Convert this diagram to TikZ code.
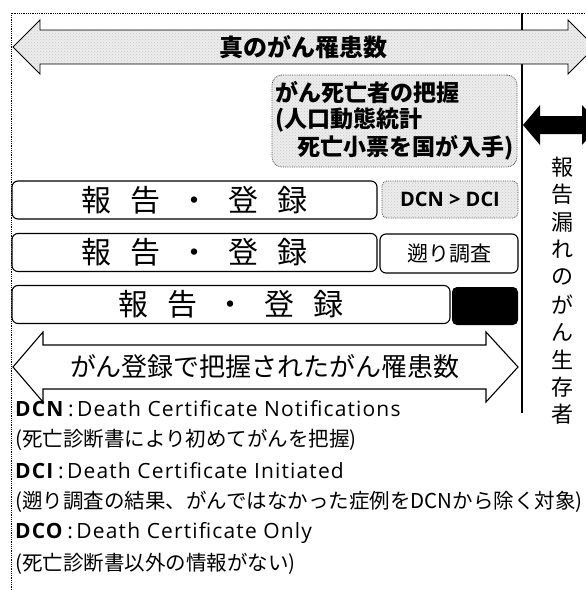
\documentclass[tikz,border=0pt]{standalone}
\usepackage{fontspec}
\setmainfont{Noto Sans CJK JP}
\newfontfamily\latinfont{Open Sans}
\newfontfamily\latinwide[LetterSpace=5.5]{Open Sans}
\usetikzlibrary{patterns}
\newcommand\fsz[1]{\fontsize{#1}{#1}\selectfont}

\tikzset{
  stipple/.style={preaction={fill=gray!14}, pattern=crosshatch dots, pattern color=gray!45},
  regbox/.style={draw, line width=1.1pt, rounded corners=6pt, fill=white, inner sep=0pt},
  dotbox/.style={stipple, draw=gray!60!black, densely dotted, line width=0.8pt, rounded corners=10pt, inner sep=0pt},
  legend/.style={anchor=west, inner sep=0pt},
}

\begin{document}
\begin{tikzpicture}[x=1pt, y=-1pt]
  \useasboundingbox (0,0) rectangle (586,590);
  \clip (0,0) rectangle (586,590);

  % frame and divider
  \draw[densely dotted, line width=0.8pt] (11,590) -- (11,13) -- (586,13);
  \draw[line width=2.8pt] (522,13) -- (522,413);

  % true incidence
  \draw[stipple, line width=0.9pt] (13,47) -- (40,20) -- (40,30) -- (568,30) -- (568,20) -- (595,47)
    -- (568,74) -- (568,64) -- (40,64) -- (40,74) -- cycle;
  \node[font=\bfseries\fsz{24}] (truecnt) at (303,47) {真のがん罹患数};

  % death data
  \node[dotbox, minimum width=245pt, minimum height=92pt] (death) at (394.5,121) {};
  \node[legend, font=\bfseries\fsz{23}] (dt1) at (275,93) {がん死亡者の把握};
  \node[legend, font=\bfseries\fsz{23}] (dt2) at (275,120) {(人口動態統計};
  \node[legend, font=\bfseries\fsz{23}] (dt3) at (297,148) {死亡小票を国が入手)};

  % reporting rows
  \foreach \n/\yc/\w in {1/200/365, 2/252.5/365, 3/304.5/438}{
    \node[regbox, font=\fsz{30}, minimum width=\w pt, minimum height=38pt] (reg\n) at ({12+\w/2},\yc)
      {報\hspace{0.63em}告\hspace{0.63em}・\hspace{0.63em}登\hspace{0.63em}録};
  }
  \node[dotbox, rounded corners=5pt, font=\latinfont\bfseries\fsz{20}, minimum width=136pt, minimum height=37pt]
    (dcn) at (450,199.5) {DCN > DCI};
  \node[regbox, font=\fsz{21}, minimum width=138pt, minimum height=39pt] (retro) at (449,253.5) {遡り調査};
  \node[fill=black, rounded corners=5pt, minimum width=66pt, minimum height=38pt, inner sep=0pt] (dco) at (485,306) {};

  % registered incidence
  \draw[line width=1.1pt, fill=white] (13,367) -- (43,332) -- (43,345) -- (486,345) -- (486,332) -- (518,367)
    -- (486,402) -- (486,389) -- (43,389) -- (43,402) -- cycle;
  \node[font=\fsz{26}] (regcnt) at (265,367) {がん登録で把握されたがん罹患数};

  % missed survivors
  \fill (523,125) -- (540,105) -- (540,116) -- (582,116) -- (582,105) -- (600,125)
    -- (582,145) -- (582,134) -- (540,134) -- (540,145) -- cycle;
  \foreach \c [count=\i] in {報,告,漏,れ,の,が,ん,生,存,者}
    \node[font=\fsz{22}] (v\i) at (562,{139.5+27.5*\i}) {\c};

  % legend
  \node[legend, font=\latinwide\fsz{21}] (leg1) at (15,409) {\textbf{DCN}\,:\,Death Certificate Notifications};
  \node[legend, font=\fsz{20.5}] (leg2) at (15,440) {(死亡診断書により初めてがんを把握)};
  \node[legend, font=\latinwide\fsz{21}] (leg3) at (15,471) {\textbf{DCI}\,:\,Death Certificate Initiated};
  \node[legend, font=\fsz{20.5}] (leg4) at (15,502) {(遡り調査の結果、がんではなかった症例をDCNから除く対象)};
  \node[legend, font=\latinwide\fsz{21}] (leg5) at (15,533) {\textbf{DCO}\,:\,Death Certificate Only};
  \node[legend, font=\fsz{20.5}] (leg6) at (15,564) {(死亡診断書以外の情報がない)};
\end{tikzpicture}
\end{document}
